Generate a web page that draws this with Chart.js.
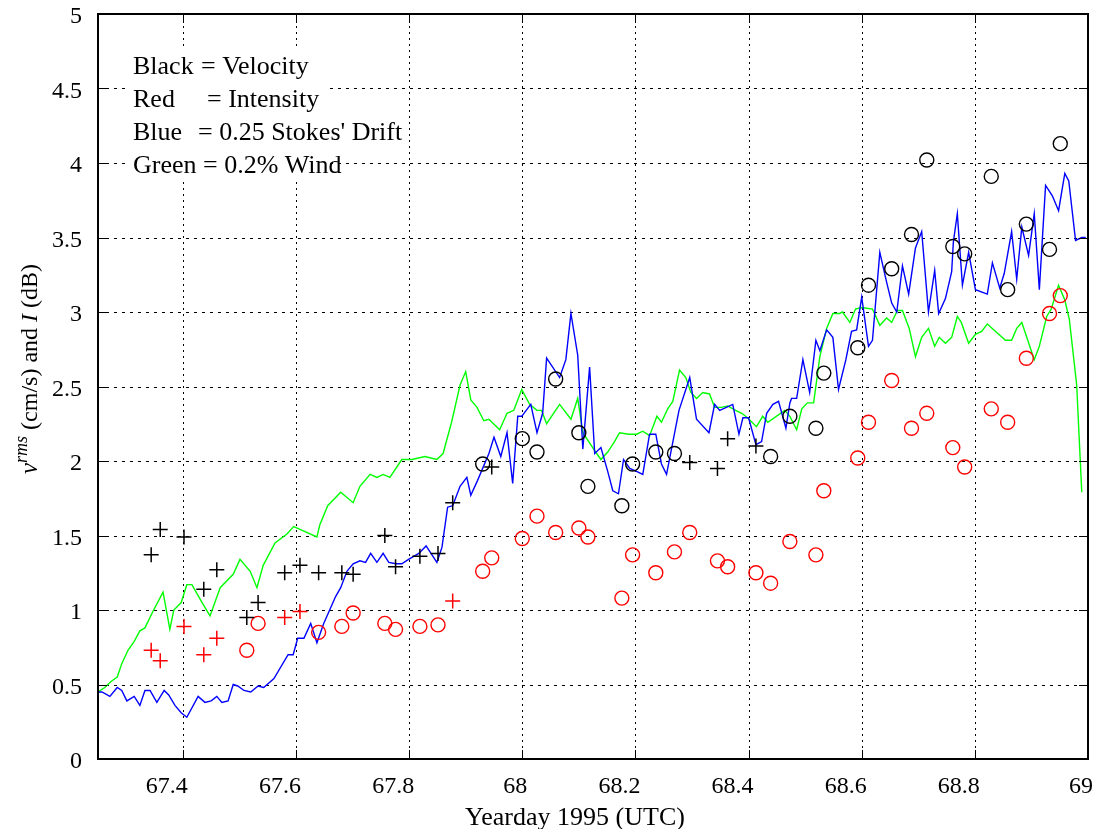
<!DOCTYPE html>
<html><head><meta charset="utf-8">
<script src="https://cdn.jsdelivr.net/npm/chart.js@4/dist/chart.umd.min.js"></script>
<style>html,body{margin:0;padding:0;background:#fff;}</style>
</head><body>
<canvas id="c" width="1098" height="829"></canvas>
<script>
// ---------- data ----------
const xTicks = [67.4,67.6,67.8,68,68.2,68.4,68.6,68.8,69];
const yTicks = [0,0.5,1,1.5,2,2.5,3,3.5,4,4.5,5];
const xTitle = 'Yearday 1995 (UTC)';
const legendLines = [['Black','= Velocity'],['Red','= Intensity'],['Blue','= 0.25 Stokes\' Drift'],['Green','= 0.2% Wind']];

const blueX = [67.250,67.257,67.271,67.284,67.292,67.301,67.314,67.324,67.333,67.342,67.354,67.367,67.375,67.386,67.397,67.407,67.427,67.439,67.450,67.460,67.469,67.480,67.489,67.497,67.508,67.520,67.533,67.543,67.561,67.586,67.595,67.603,67.614,67.626,67.637,67.649,67.670,67.679,67.690,67.701,67.713,67.723,67.732,67.743,67.754,67.764,67.777,67.787,67.799,67.817,67.830,67.849,67.858,67.868,67.877,67.890,67.902,67.909,67.921,67.941,67.950,67.962,67.973,67.983,67.992,67.999,68.015,68.026,68.036,68.043,68.066,68.077,68.086,68.098,68.107,68.119,68.128,68.139,68.151,68.160,68.170,68.179,68.190,68.202,68.213,68.225,68.236,68.246,68.255,68.277,68.296,68.308,68.330,68.340,68.349,68.372,68.383,68.390,68.400,68.413,68.423,68.432,68.443,68.453,68.466,68.473,68.476,68.485,68.496,68.508,68.519,68.526,68.538,68.549,68.559,68.572,68.582,68.591,68.600,68.612,68.619,68.632,68.644,68.653,68.662,68.672,68.683,68.695,68.706,68.718,68.729,68.736,68.748,68.759,68.762,68.769,68.778,68.789,68.801,68.822,68.831,68.844,68.852,68.865,68.874,68.883,68.895,68.905,68.914,68.925,68.937,68.948,68.959,68.966,68.978,68.989,68.996];
const blueY = [0.45,0.45,0.42,0.48,0.46,0.39,0.42,0.36,0.46,0.46,0.38,0.46,0.43,0.36,0.31,0.28,0.42,0.38,0.39,0.42,0.38,0.39,0.50,0.49,0.46,0.45,0.49,0.48,0.54,0.70,0.70,0.81,0.81,0.91,0.78,0.91,1.09,1.15,1.26,1.31,1.33,1.32,1.38,1.32,1.38,1.32,1.31,1.31,1.34,1.38,1.43,1.32,1.42,1.69,1.70,1.83,1.89,1.77,1.87,2.05,2.16,2.03,2.19,1.85,2.30,2.30,2.38,2.19,2.32,2.69,2.56,2.68,2.99,2.71,2.08,2.63,2.05,2.09,1.93,1.80,1.78,2.01,1.95,1.93,1.91,2.18,2.18,1.98,1.91,2.34,2.56,2.28,2.19,2.38,2.34,2.38,2.18,2.29,2.29,2.11,2.13,2.32,2.38,2.40,2.22,2.39,2.42,2.42,2.68,2.46,2.81,2.74,2.88,2.83,2.48,2.68,2.87,2.88,3.10,2.77,2.81,3.40,3.20,3.06,3.00,3.31,3.12,3.43,3.54,3.00,3.28,2.99,3.09,3.27,3.47,3.66,3.18,3.40,3.15,3.12,3.33,3.16,3.26,3.54,3.22,3.57,3.38,3.66,3.15,3.85,3.78,3.68,3.93,3.88,3.48,3.50,3.50];

const greenX = [67.250,67.262,67.273,67.284,67.292,67.303,67.314,67.324,67.333,67.347,67.365,67.377,67.384,67.397,67.407,67.416,67.434,67.448,67.466,67.489,67.501,67.519,67.531,67.542,67.563,67.584,67.596,67.614,67.637,67.642,67.656,67.679,67.701,67.713,67.731,67.743,67.754,67.766,67.787,67.805,67.828,67.849,67.860,67.875,67.890,67.900,67.909,67.920,67.932,67.941,67.960,67.973,67.985,67.999,68.013,68.026,68.034,68.043,68.066,68.086,68.098,68.107,68.128,68.139,68.151,68.163,68.172,68.188,68.202,68.213,68.225,68.238,68.246,68.257,68.266,68.278,68.289,68.298,68.308,68.319,68.331,68.340,68.352,68.363,68.377,68.388,68.398,68.414,68.425,68.434,68.464,68.473,68.485,68.494,68.504,68.515,68.526,68.538,68.549,68.561,68.566,68.579,68.589,68.600,68.619,68.632,68.644,68.653,68.663,68.672,68.684,68.695,68.706,68.718,68.729,68.737,68.748,68.759,68.769,68.776,68.789,68.801,68.812,68.822,68.854,68.865,68.874,68.883,68.905,68.914,68.927,68.935,68.948,68.959,68.967,68.980,68.989];
const greenY = [0.45,0.48,0.52,0.55,0.64,0.73,0.79,0.86,0.88,0.99,1.12,0.87,1.00,1.05,1.17,1.17,1.05,0.96,1.15,1.24,1.34,1.26,1.15,1.30,1.45,1.51,1.56,1.53,1.49,1.57,1.70,1.79,1.72,1.83,1.91,1.89,1.91,1.89,2.01,2.01,2.03,2.01,2.05,2.26,2.51,2.60,2.41,2.36,2.27,2.28,2.21,2.32,2.34,2.48,2.38,2.34,2.34,2.25,2.38,2.28,2.42,2.19,2.07,2.01,2.06,2.13,2.19,2.18,2.18,2.20,2.17,2.30,2.26,2.35,2.40,2.61,2.56,2.46,2.42,2.46,2.45,2.36,2.36,2.37,2.34,2.32,2.29,2.23,2.30,2.26,2.34,2.30,2.21,2.35,2.39,2.39,2.70,2.89,2.99,2.99,3.00,2.93,3.02,3.03,3.02,2.91,2.96,2.93,3.01,3.01,2.89,2.70,2.83,2.89,2.77,2.83,2.79,2.83,2.97,2.93,2.79,2.85,2.87,2.92,2.81,2.81,2.89,2.93,2.68,2.77,2.97,3.02,3.18,3.08,2.95,2.51,1.79];

const blackPlusX = [67.344,67.360,67.402,67.437,67.460,67.513,67.533,67.580,67.607,67.640,67.681,67.701,67.757,67.776,67.819,67.851,67.877,67.946,68.296,68.345,68.363,68.413];
const blackPlusY = [1.37,1.54,1.49,1.14,1.27,0.95,1.05,1.25,1.30,1.25,1.25,1.24,1.50,1.29,1.36,1.38,1.72,1.96,1.99,1.95,2.15,2.10];

const blackCircX = [67.930,68.000,68.026,68.059,68.100,68.116,68.176,68.195,68.236,68.269,68.439,68.473,68.519,68.533,68.593,68.612,68.653,68.688,68.715,68.761,68.782,68.829,68.858,68.891,68.932,68.951];
const blackCircY = [1.98,2.15,2.06,2.55,2.19,1.83,1.70,1.98,2.06,2.05,2.03,2.30,2.22,2.59,2.76,3.18,3.29,3.52,4.02,3.44,3.39,3.91,3.15,3.59,3.42,4.13];

const redPlusX = [67.344,67.360,67.402,67.437,67.460,67.580,67.607,67.877];
const redPlusY = [0.73,0.66,0.89,0.70,0.81,0.95,0.99,1.06];

const redCircX = [67.513,67.533,67.640,67.681,67.701,67.757,67.776,67.819,67.851,67.930,67.946,68.000,68.026,68.059,68.100,68.116,68.176,68.195,68.236,68.269,68.296,68.345,68.363,68.413,68.439,68.473,68.519,68.533,68.593,68.612,68.653,68.688,68.715,68.761,68.782,68.829,68.858,68.891,68.932,68.951];
const redCircY = [0.73,0.91,0.85,0.89,0.98,0.91,0.87,0.89,0.90,1.26,1.35,1.48,1.63,1.52,1.55,1.49,1.08,1.37,1.25,1.39,1.52,1.33,1.29,1.25,1.18,1.46,1.37,1.80,2.02,2.26,2.54,2.22,2.32,2.09,1.96,2.35,2.26,2.69,2.99,3.11];

// ---------- helpers ----------
const pts = (xs, ys) => xs.map((x, i) => ({x: x, y: ys[i]}));
const SERIF = '"Liberation Serif", "Times New Roman", serif';

const decor = {
  id: 'decor',
  beforeDatasetsDraw(chart) {
    const {ctx, chartArea: a, scales} = chart;
    ctx.save();
    ctx.strokeStyle = '#000';
    ctx.lineWidth = 1;
    ctx.setLineDash([2, 4]);
    xTicks.forEach(v => {
      const x = Math.round(scales.x.getPixelForValue(v)) + 0.5;
      if (x > a.left + 2 && x < a.right - 2) {
        ctx.beginPath(); ctx.moveTo(x, a.top); ctx.lineTo(x, a.bottom); ctx.stroke();
      }
    });
    ctx.setLineDash([3, 5]);
    yTicks.forEach(v => {
      const y = Math.round(scales.y.getPixelForValue(v)) + 0.5;
      if (y > a.top + 2 && y < a.bottom - 2) {
        ctx.beginPath(); ctx.moveTo(a.left, y); ctx.lineTo(a.right, y); ctx.stroke();
      }
    });
    ctx.setLineDash([]);
    // opaque key box
    ctx.fillStyle = '#fff';
    ctx.fillRect(a.left + 30, a.top + 32, 202, 135);
    ctx.restore();
  },
  afterDatasetsDraw(chart) {
    const {ctx, chartArea: a, scales} = chart;
    ctx.save();
    // key text
    ctx.fillStyle = '#000';
    ctx.font = '26px ' + SERIF;
    ctx.textBaseline = 'alphabetic';
    ctx.textAlign = 'left';
    const eqX = [201, 207, 198, 203];
    legendLines.forEach((l, i) => {
      const y = 74 + i * 33;
      ctx.fillText(l[0], 133, y);
      ctx.fillText(l[1], eqX[i], y);
    });
    // frame
    ctx.strokeStyle = '#000';
    ctx.lineWidth = 2;
    ctx.strokeRect(a.left, a.top, a.right - a.left, a.bottom - a.top);
    // tick marks (inside, mirrored)
    ctx.lineWidth = 1;
    xTicks.forEach(v => {
      const x = Math.round(scales.x.getPixelForValue(v)) + 0.5;
      ctx.beginPath();
      ctx.moveTo(x, a.bottom); ctx.lineTo(x, a.bottom - 9);
      ctx.moveTo(x, a.top); ctx.lineTo(x, a.top + 9);
      ctx.stroke();
    });
    yTicks.forEach(v => {
      const y = Math.round(scales.y.getPixelForValue(v)) + 0.5;
      ctx.beginPath();
      ctx.moveTo(a.left, y); ctx.lineTo(a.left + 9, y);
      ctx.moveTo(a.right, y); ctx.lineTo(a.right - 9, y);
      ctx.stroke();
    });
    // tick labels
    ctx.font = '24px ' + SERIF;
    ctx.textAlign = 'right';
    ctx.textBaseline = 'alphabetic';
    xTicks.forEach(v => {
      const x = scales.x.getPixelForValue(v);
      ctx.fillText(String(v), x + 5, 793);
    });
    ctx.textBaseline = 'middle';
    yTicks.forEach(v => {
      const y = scales.y.getPixelForValue(v);
      ctx.fillText(String(v), 82, y + 3);
    });
    // x title
    ctx.font = '26px ' + SERIF;
    ctx.textAlign = 'center';
    ctx.textBaseline = 'alphabetic';
    ctx.fillText(xTitle, 575, 825);
    // y title (rotated, with superscript)
    const parts = [
      {t: 'v', f: 'italic 25px ' + SERIF, dy: 0},
      {t: 'rms', f: 'italic 18px ' + SERIF, dy: -10},
      {t: ' (cm/s) and ', f: '24px ' + SERIF, dy: 0},
      {t: 'I', f: 'italic 24px ' + SERIF, dy: 0},
      {t: ' (dB)', f: '24px ' + SERIF, dy: 0}
    ];
    let total = 0;
    parts.forEach(p => { ctx.font = p.f; p.w = ctx.measureText(p.t).width; total += p.w; });
    ctx.translate(37, 369);
    ctx.rotate(-Math.PI / 2);
    ctx.textAlign = 'left';
    let cx = -total / 2;
    parts.forEach(p => { ctx.font = p.f; ctx.fillText(p.t, cx, p.dy); cx += p.w; });
    ctx.restore();
  }
};

new Chart(document.getElementById('c').getContext('2d'), {
  type: 'scatter',
  data: {
    datasets: [
      {label: 'Velocity (+)', data: pts(blackPlusX, blackPlusY), pointStyle: 'cross', pointRadius: 7.5, borderColor: '#000', borderWidth: 1.5, showLine: false},
      {label: 'Velocity (o)', data: pts(blackCircX, blackCircY), pointStyle: 'circle', pointRadius: 7, borderColor: '#000', backgroundColor: 'rgba(0,0,0,0)', borderWidth: 1.4, showLine: false},
      {label: 'Intensity (+)', data: pts(redPlusX, redPlusY), pointStyle: 'cross', pointRadius: 7.5, borderColor: '#ff0000', borderWidth: 1.5, showLine: false},
      {label: 'Intensity (o)', data: pts(redCircX, redCircY), pointStyle: 'circle', pointRadius: 7, borderColor: '#ff0000', backgroundColor: 'rgba(0,0,0,0)', borderWidth: 1.4, showLine: false},
      {label: 'Stokes drift', data: pts(blueX, blueY), showLine: true, borderColor: '#0000ff', borderWidth: 1.4, pointRadius: 0, tension: 0, fill: false},
      {label: 'Wind', data: pts(greenX, greenY), showLine: true, borderColor: '#00ff00', borderWidth: 1.4, pointRadius: 0, tension: 0, fill: false}
    ]
  },
  options: {
    responsive: false,
    animation: false,
    devicePixelRatio: 1,
    events: [],
    layout: {padding: {left: 0, right: 10, top: 14, bottom: 0}},
    plugins: {legend: {display: false}, tooltip: {enabled: false}},
    scales: {
      x: {
        type: 'linear', min: 67.25, max: 69,
        afterBuildTicks(s) { s.ticks = xTicks.map(v => ({value: v})); },
        afterFit(s) { s.height = 70; },
        ticks: {display: false}, grid: {display: false}, border: {display: false}
      },
      y: {
        type: 'linear', min: 0, max: 5,
        afterBuildTicks(s) { s.ticks = yTicks.map(v => ({value: v})); },
        afterFit(s) { s.width = 98; },
        ticks: {display: false}, grid: {display: false}, border: {display: false}
      }
    }
  },
  plugins: [decor]
});
</script>
</body></html>
